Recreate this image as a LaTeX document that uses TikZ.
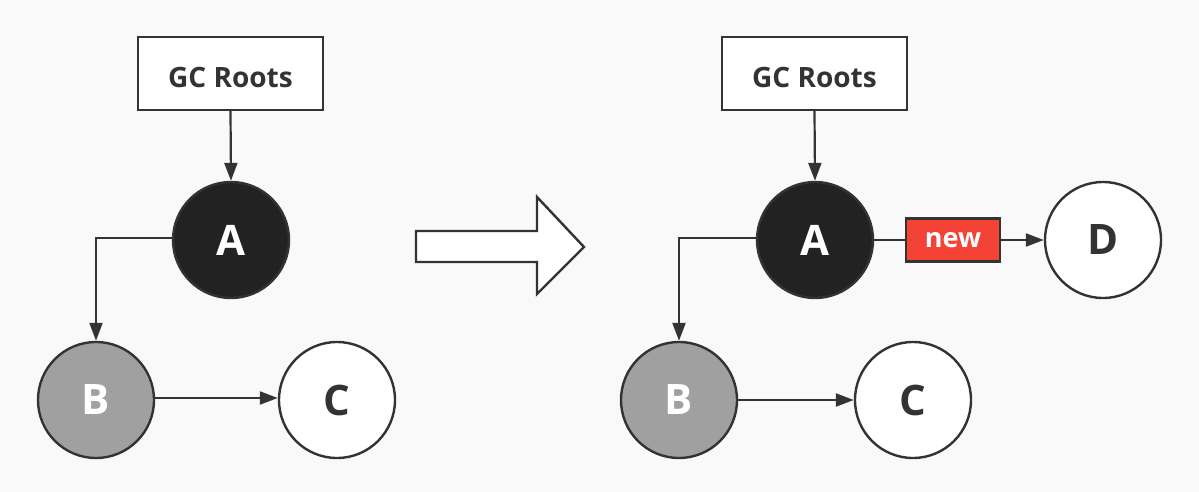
\documentclass[tikz,border=0pt]{standalone}
\usepackage{fontspec}
\setmainfont{Open Sans}
\usetikzlibrary{arrows.meta}
\definecolor{bg}{HTML}{F9F9F9}
\definecolor{ink}{HTML}{333333}
\definecolor{dark}{HTML}{222222}
\definecolor{gray}{HTML}{A0A0A0}
\definecolor{newred}{HTML}{F44336}
\tikzset{
  rootbox/.style={draw=ink, line width=2.4pt, fill=white, minimum width=185pt, minimum height=73pt, inner sep=0pt, text height=28pt, text depth=0pt, font=\fontsize{28}{30}\selectfont\bfseries, text=ink},
  obj/.style={circle, draw=ink, line width=2.4pt, minimum size=116pt, inner sep=0pt, font=\fontsize{42}{44}\selectfont\bfseries},
  darkobj/.style={obj, fill=dark, text=white},
  grayobj/.style={obj, fill=gray, text=white},
  whiteobj/.style={obj, fill=white, text=ink},
  newtag/.style={draw=ink, line width=2.4pt, fill=newred, text=white, minimum width=94pt, minimum height=43pt, inner sep=0pt, font=\fontsize{27}{29}\selectfont\bfseries},
  link/.style={draw=ink, line width=2.2pt, -{Triangle[length=18pt,width=13pt]}},
  plain/.style={draw=ink, line width=2.2pt},
}
\begin{document}
\begin{tikzpicture}[x=1pt,y=-1pt]
\fill[bg] (0,0) rectangle (1199,492);
\useasboundingbox (0,0) rectangle (1199,492);
% left
\node[rootbox] (r1) at (230.5,73.5) {GC Roots};
\node[darkobj] (a1) at (231,240) {A};
\node[grayobj] (b1) at (96,400) {B};
\node[whiteobj] (c1) at (337,400) {C};
\draw[link] (r1.south) -- (a1.north);
\draw[link] (a1.west |- 0,238) -- (96,238) -- (b1.north);
\draw[link] (b1.east |- 0,398) -- (c1.west |- 0,398);
% big arrow
\draw[draw=ink, line width=2.4pt, fill=white, line join=miter] (416,231) -- (537,231) -- (537,197) -- (584,247) -- (537,294) -- (537,262) -- (416,262) -- cycle;
% right
\node[rootbox] (r2) at (814.5,73.5) {GC Roots};
\node[darkobj] (a2) at (815,240) {A};
\node[grayobj] (b2) at (679,400) {B};
\node[whiteobj] (c2) at (913,400) {C};
\node[whiteobj] (d2) at (1103,240) {D};
\node[newtag] (n2) at (953,240) {new};
\draw[link] (r2.south) -- (a2.north);
\draw[link] (a2.west |- 0,238) -- (679,238) -- (b2.north);
\draw[link] (b2.east |- 0,400) -- (c2.west |- 0,400);
\draw[plain] (a2.east) -- (n2.west);
\draw[link] (n2.east) -- (d2.west);
\end{tikzpicture}
\end{document}
